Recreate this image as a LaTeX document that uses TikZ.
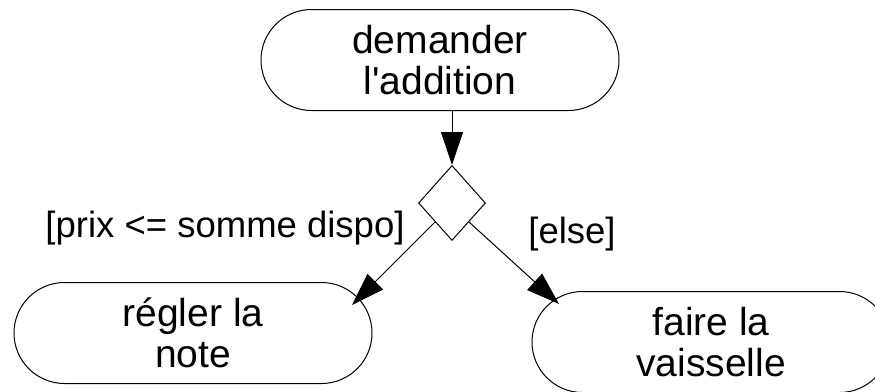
\documentclass[tikz,border=0pt]{standalone}
\usepackage{fontspec}
\setmainfont{Liberation Sans}
\usetikzlibrary{shapes.geometric,shapes.misc,arrows.meta}

\begin{document}
\begin{tikzpicture}[x=1pt,y=-1pt,line width=1pt,
    every node/.style={font=\fontsize{36.5}{41}\selectfont},
    action/.style={draw,rounded rectangle,minimum width=358pt,minimum height=101pt,align=center,inner sep=0pt,
      font=\fontsize{39}{41.5}\selectfont},
    choice/.style={draw,diamond,minimum width=67pt,minimum height=75pt,inner sep=0pt},
    flow/.style={-{Triangle[length=33pt,width=22pt]}}]
      \useasboundingbox (0,0) rectangle (875,391);
      \node[action](addition) at (440,60) {demander\\l\textquotesingle addition};
      \node[choice](dia) at (452,203) {};
      \node[action](regler) at (193,333) {régler la\\note};
      \node[action](vaisselle) at (711,342) {faire la\\vaisselle};
      \coordinate(reglerin) at (352,305);
      \coordinate(vaissellein) at (559,304);
      \draw[flow](dia.north |- addition.south)--(dia.north);
      \draw[flow](dia.south west)--(reglerin);
      \draw[flow](dia.south east)--(vaissellein);
      \node(prix) at (225,228) {[prix <= somme dispo]};
      \node(else) at (572,234) {[else]};
    \end{tikzpicture}
\end{document}
